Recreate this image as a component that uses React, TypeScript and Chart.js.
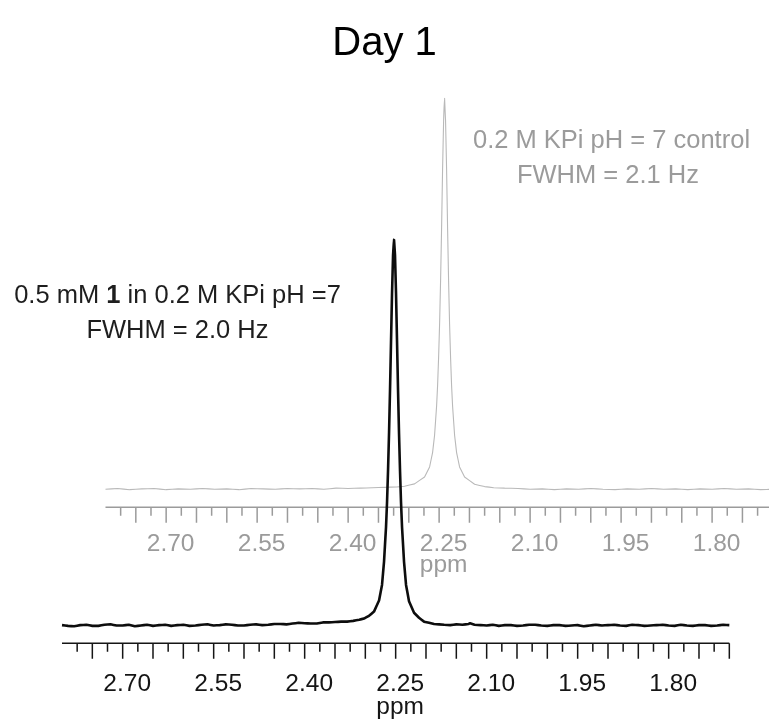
import { useEffect, useRef } from 'react';
import { Chart, registerables } from 'chart.js';

Chart.register(...registerables);

const TITLE = 'Day 1';
const AXIS_UNIT = 'ppm';
const AXIS_RANGE = [2.8, 1.7];
const TICK_LABEL_VALUES = [2.7, 2.55, 2.4, 2.25, 2.1, 1.95, 1.8];
const TICK_LABELS = ['2.70', '2.55', '2.40', '2.25', '2.10', '1.95', '1.80'];
const MAJOR_TICKS = [2.75, 2.7, 2.65, 2.6, 2.55, 2.5, 2.45, 2.4, 2.35, 2.3, 2.25, 2.2, 2.15, 2.1, 2.05, 2.0, 1.95, 1.9, 1.85, 1.8, 1.75, 1.7];
const MINOR_TICKS = [2.775, 2.725, 2.675, 2.625, 2.575, 2.525, 2.475, 2.425, 2.375, 2.325, 2.275, 2.225, 2.175, 2.125, 2.075, 2.025, 1.975, 1.925, 1.875, 1.825, 1.775, 1.725];

const SAMPLE_NOTE: [string, boolean][] = [['0.5 mM ', false], ['1', true], [' in 0.2 M KPi pH =7', false]];
const SAMPLE_FWHM = 'FWHM = 2.0 Hz';
const CONTROL_NOTE = '0.2 M KPi pH = 7 control';
const CONTROL_FWHM = 'FWHM = 2.1 Hz';

// Sample spectrum (black): chemical shift (ppm) and intensity
const SAMPLE_PPM = [
  2.8, 2.79, 2.78, 2.77, 2.76, 2.75, 2.74, 2.73, 2.72, 2.71, 2.7, 2.69, 2.68, 2.67, 2.66, 2.65, 2.64, 2.63, 2.62, 2.61,
  2.6, 2.59, 2.58, 2.57, 2.56, 2.55, 2.54, 2.53, 2.52, 2.51, 2.5, 2.49, 2.48, 2.47, 2.46, 2.45, 2.44, 2.43, 2.42, 2.41,
  2.4, 2.39, 2.38, 2.37, 2.36, 2.35, 2.34, 2.33, 2.32, 2.31,
  2.3022, 2.2939, 2.2857, 2.2774, 2.2725, 2.2692, 2.2659, 2.2642, 2.2626, 2.2609, 2.2593, 2.2576, 2.256, 2.2543, 2.2527,
  2.2511, 2.2494, 2.2478, 2.2461, 2.2445, 2.2428, 2.2412, 2.2395, 2.2362, 2.2329, 2.228, 2.2197, 2.2115, 2.2032, 2.1867,
  2.17, 2.16, 2.15, 2.14, 2.13, 2.1274, 2.12, 2.11, 2.1, 2.09, 2.08, 2.07, 2.06, 2.05, 2.04, 2.03, 2.02, 2.01, 2.0,
  1.99, 1.98, 1.97, 1.96, 1.95, 1.94, 1.93, 1.92, 1.91, 1.9, 1.89, 1.88, 1.87, 1.86, 1.85, 1.84, 1.83, 1.82, 1.81, 1.8,
  1.79, 1.78, 1.77, 1.76, 1.75, 1.74, 1.73, 1.72, 1.71, 1.7,
];
const SAMPLE_INT = [
  0.1, -0.1, -0.2, 0.1, 0.2, -0.1, -0.1, 0.2, 0.3, 0.0, 0.0, 0.2, -0.2, 0.0, 0.2, -0.1, 0.1, 0.2, -0.1, 0.1,
  0.2, -0.1, 0.0, 0.2, 0.3, 0.0, 0.1, 0.3, 0.2, 0.0, 0.0, 0.2, 0.3, 0.1, 0.2, 0.4, 0.4, 0.3, 0.5, 0.7,
  0.6, 0.5, 0.5, 0.8, 0.8, 0.9, 1.0, 1.0, 1.2, 1.5,
  1.8, 2.5, 3.6, 6.5, 10.5, 16.5, 25.5, 32, 40, 50, 61, 74, 86, 96, 100,
  96, 86, 74, 61, 50, 40, 32, 25.5, 16.5, 10.5, 6.3, 3.3, 2.0, 1.0, 0.4,
  0.2, 0.1, 0.3, 0.2, 0.4, 0.6, 0.2, 0.1, 0.0, 0.2, -0.1, 0.1, 0.1, -0.1, 0.0, 0.2, 0.2, 0.0, -0.1,
  0.1, 0.1, -0.1, 0.0, 0.1, -0.2, 0.0, 0.2, 0.0, 0.1, 0.2, 0.0, -0.1, 0.2, 0.1, -0.1, 0.0, 0.1, 0.2, 0.0,
  -0.1, 0.2, 0.0, -0.1, 0.1, 0.1, -0.1, 0.0, 0.2, 0.1,
];

// Control spectrum (gray): chemical shift (ppm) and intensity
const CONTROL_PPM = [
  2.8, 2.78, 2.76, 2.74, 2.72, 2.7, 2.68, 2.66, 2.64, 2.62, 2.6, 2.58, 2.56, 2.54, 2.52, 2.5, 2.48, 2.46, 2.44, 2.42, 2.4, 2.38, 2.36, 2.3399, 2.32,
  2.307, 2.2905, 2.274, 2.2657, 2.2608, 2.2575, 2.2542, 2.2525, 2.2509, 2.2492, 2.2476, 2.2459, 2.2443, 2.2426, 2.241,
  2.2394, 2.2377, 2.2361, 2.2344, 2.2328, 2.2311, 2.2295, 2.2278, 2.2245, 2.2212, 2.2163, 2.208, 2.1915, 2.175, 2.16, 2.1421,
  2.12, 2.1, 2.08, 2.06, 2.04, 2.02, 2.0, 1.98, 1.96, 1.94, 1.92, 1.9, 1.88, 1.86, 1.84, 1.82, 1.8, 1.78, 1.76, 1.74, 1.72, 1.7,
];
const CONTROL_INT = [
  0.0, 0.2, -0.1, 0.1, 0.2, -0.1, 0.1, 0.0, 0.2, 0.0, 0.1, -0.1, 0.2, 0.1, 0.0, 0.2, 0.1, 0.2, 0.0, 0.3, 0.2, 0.3, 0.4, 0.5, 0.6,
  0.8, 1.4, 3.2, 5.8, 9.5, 14, 21.5, 27, 34, 43, 54, 68, 83, 95.5, 101.3,
  95.5, 83, 68, 54, 43, 34, 27, 21.5, 14, 9.5, 5.8, 3.2, 1.3, 0.7, 0.4, 0.3,
  0.2, 0.0, 0.1, -0.1, 0.1, 0.0, 0.2, 0.0, -0.1, 0.1, 0.0, 0.2, 0.0, 0.1, -0.1, 0.1, 0.0, 0.2, 0.0, 0.1, -0.1, 0.0,
];

const FONT = '"Liberation Sans", Arial, sans-serif';
const GRAY = '#9b9b9b';
const DARK = '#151515';

function drawAxis(ctx: CanvasRenderingContext2D, sx: any, axisY: number, color: string, labelDy: number, unitDy: number) {
  ctx.save();
  ctx.strokeStyle = color;
  ctx.fillStyle = color;
  ctx.lineWidth = 1.5;
  ctx.beginPath();
  ctx.moveTo(sx.getPixelForValue(AXIS_RANGE[0]), axisY);
  ctx.lineTo(sx.getPixelForValue(AXIS_RANGE[1]), axisY);
  MAJOR_TICKS.forEach((v) => {
    const px = sx.getPixelForValue(v);
    ctx.moveTo(px, axisY);
    ctx.lineTo(px, axisY + 15.5);
  });
  MINOR_TICKS.forEach((v) => {
    const px = sx.getPixelForValue(v);
    ctx.moveTo(px, axisY);
    ctx.lineTo(px, axisY + 8.5);
  });
  ctx.stroke();
  ctx.font = `24.5px ${FONT}`;
  ctx.textAlign = 'center';
  ctx.textBaseline = 'alphabetic';
  TICK_LABEL_VALUES.forEach((v, i) => {
    ctx.fillText(TICK_LABELS[i], sx.getPixelForValue(v) + 4.5, axisY + labelDy);
  });
  ctx.fillText(AXIS_UNIT, sx.getPixelForValue(2.25) + 4.5, axisY + unitDy);
  ctx.restore();
}

const decorPlugin = {
  id: 'decor',
  beforeDatasetsDraw(chart: any) {
    const ctx: CanvasRenderingContext2D = chart.ctx;
    const { x, x2, y, y2 } = chart.scales;
    drawAxis(ctx, x2, Math.round(y2.getPixelForValue(0) + 18) + 0.25, GRAY, 44, 64.8);
    drawAxis(ctx, x, Math.round(y.getPixelForValue(0) + 17) + 0.25, DARK, 47.5, 70.5);

    ctx.save();
    ctx.textBaseline = 'alphabetic';
    // title
    ctx.fillStyle = '#000';
    ctx.font = `40px ${FONT}`;
    ctx.textAlign = 'center';
    ctx.fillText(TITLE, 384.5, 55);

    // control annotation
    ctx.fillStyle = GRAY;
    ctx.font = `25.5px ${FONT}`;
    ctx.fillText(CONTROL_NOTE, 611.5, 148);
    ctx.fillText(CONTROL_FWHM, 608, 183);

    // sample annotation (with bold compound number)
    ctx.fillStyle = '#1e1e1e';
    ctx.textAlign = 'left';
    const widths = SAMPLE_NOTE.map(([t, b]) => {
      ctx.font = `${b ? 'bold ' : ''}25.5px ${FONT}`;
      return ctx.measureText(t).width;
    });
    const total = widths.reduce((a, b) => a + b, 0);
    let cx = 177.5 - total / 2;
    SAMPLE_NOTE.forEach(([t, b], i) => {
      ctx.font = `${b ? 'bold ' : ''}25.5px ${FONT}`;
      ctx.fillText(t, cx, 303);
      cx += widths[i];
    });
    ctx.textAlign = 'center';
    ctx.font = `25.5px ${FONT}`;
    ctx.fillText(SAMPLE_FWHM, 177.5, 338);
    ctx.restore();
  },
};

export default function App() {
  const ref = useRef<HTMLCanvasElement>(null);
  useEffect(() => {
    document.body.style.margin = '0';
    const sample = SAMPLE_PPM.map((p, i) => ({ x: p, y: SAMPLE_INT[i] }));
    const control = CONTROL_PPM.map((p, i) => ({ x: p, y: CONTROL_INT[i] }));
    const chart = new Chart(ref.current!, {
      type: 'line',
      data: {
        datasets: [
          {
            label: 'sample',
            data: sample,
            xAxisID: 'x',
            yAxisID: 'y',
            borderColor: '#0d0d0d',
            borderWidth: 2.6,
            borderJoinStyle: 'bevel',
            pointRadius: 0,
            tension: 0.0001,
            fill: false,
          },
          {
            label: 'control',
            data: control,
            xAxisID: 'x2',
            yAxisID: 'y2',
            borderColor: '#b9b9b9',
            borderWidth: 1.1,
            borderJoinStyle: 'bevel',
            pointRadius: 0,
            tension: 0.0001,
            fill: false,
          },
        ],
      },
      options: {
        animation: false,
        responsive: false,
        devicePixelRatio: 1,
        layout: { padding: 0 },
        plugins: { legend: { display: false }, title: { display: false }, tooltip: { enabled: false } },
        events: [],
        scales: {
          x: { type: 'linear', reverse: true, min: 1.6346, max: 2.9022, display: false },
          x2: { type: 'linear', reverse: true, min: 1.7062, max: 2.9739, display: false },
          y: { type: 'linear', min: -24.74, max: 162.05, display: false },
          y2: { type: 'linear', min: -60.03, max: 126.76, display: false },
        },
      },
      plugins: [decorPlugin],
    });
    return () => chart.destroy();
  }, []);
  return (
    <div style={{ width: 769, height: 721 }}>
      <canvas ref={ref} width={769} height={721} style={{ display: 'block' }} />
    </div>
  );
}
